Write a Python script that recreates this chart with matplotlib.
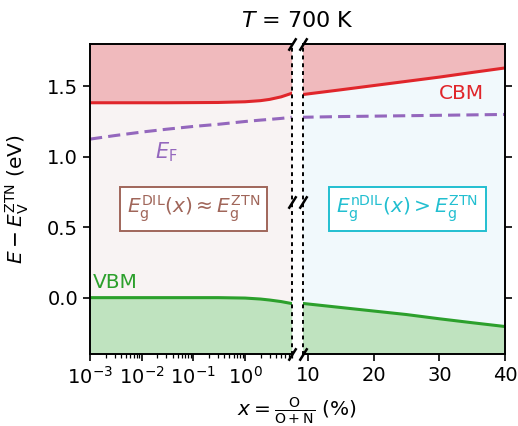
import matplotlib.pyplot as plt
import numpy as np

# dilute region (log x) and non-dilute region (linear x), x in %
x_dil = [1e-3, 3e-3, 1e-2, 3e-2, 0.1, 0.3, 1, 2, 3, 5, 8]
cbm_dil = [1.383, 1.383, 1.383, 1.383, 1.384, 1.385, 1.39, 1.398, 1.407, 1.425, 1.45]
ef_dil = [1.125, 1.15, 1.175, 1.195, 1.215, 1.23, 1.25, 1.26, 1.265, 1.272, 1.28]
vbm_dil = [0.0, 0.0, 0.0, 0.0, 0.0, 0.0, -0.003, -0.01, -0.017, -0.028, -0.042]

x_ndil = [9, 15, 20, 25, 30, 35, 40]
cbm_ndil = [1.44, 1.475, 1.505, 1.535, 1.565, 1.598, 1.63]
ef_ndil = [1.28, 1.285, 1.288, 1.291, 1.294, 1.297, 1.30]
vbm_ndil = [-0.04, -0.07, -0.095, -0.12, -0.15, -0.178, -0.205]

ylo, yhi = -0.40, 1.80
c_cb, c_vb, c_ef = '#e0262b', '#2ca02c', '#9467bd'
f_cb, f_vb = '#f0babd', '#bfe3bf'
f_gap_dil, f_gap_ndil = '#f8f3f3', '#f1f9fc'

plt.rcParams['font.size'] = 14
fig = plt.figure(figsize=(5.18, 4.26), dpi=100)
ax1 = fig.add_axes([90/518, 1-354/426, 201.7/518, 310/426])
ax2 = fig.add_axes([302.7/518, 1-354/426, 202.3/518, 310/426])


def draw(ax, x, cbm, ef, vbm, gapcol):
    ax.fill_between(x, cbm, yhi, color=f_cb, lw=0)
    ax.fill_between(x, vbm, cbm, color=gapcol, lw=0)
    ax.fill_between(x, ylo, vbm, color=f_vb, lw=0)
    ax.plot(x, cbm, color=c_cb, lw=2.2)
    ax.plot(x, vbm, color=c_vb, lw=2.2)
    ax.plot(x, ef, color=c_ef, lw=2.2, ls=(0, (4, 2)))
    ax.set_ylim(ylo, yhi)
    ax.set_yticks([0.0, 0.5, 1.0, 1.5])


draw(ax1, x_dil, cbm_dil, ef_dil, vbm_dil, f_gap_dil)
draw(ax2, x_ndil, cbm_ndil, ef_ndil, vbm_ndil, f_gap_ndil)

ax1.set_xscale('log')
ax1.set_xlim(1e-3, 8)
ax1.set_xticks([1e-3, 1e-2, 1e-1, 1e0])
ax1.set_yticklabels(['0.0', '0.5', '1.0', '1.5'])
ax1.spines['right'].set_linestyle((0, (1, 3)))
ax1.spines['right'].set_linewidth(1.4)

ax2.set_xlim(9.2, 40)
ax2.set_xticks([10, 20, 30, 40])
ax2.yaxis.tick_right()
ax2.set_yticklabels([])
ax2.spines['left'].set_linestyle((0, (1, 3)))
ax2.spines['left'].set_linewidth(1.4)

for ax in (ax1, ax2):
    for side in ('top', 'bottom'):
        ax.spines[side].set_linewidth(1.4)
    ax.tick_params(width=1.2, length=5)
    ax.tick_params(which='minor', width=0.9, length=3)
ax1.spines['left'].set_linewidth(1.4)
ax2.spines['right'].set_linewidth(1.4)

# break marks
kw = dict(marker=[(-1, -1.6), (1, 1.6)], markersize=9, linestyle='none',
          color='k', mec='k', mew=1.8, clip_on=False)
ymid = (0.68 - ylo) / (yhi - ylo)
ax1.plot([1, 1, 1], [0, 1, ymid], transform=ax1.transAxes, **kw)
ax2.plot([0, 0, 0], [0, 1, ymid], transform=ax2.transAxes, **kw)

ax1.text(0.012, 0.105, 'VBM', color=c_vb, fontsize=14.5, va='center',
         transform=ax1.get_yaxis_transform())
ax1.text(0.018, 1.03, '$E_\\mathrm{F}$', color=c_ef, fontsize=15, va='center')
ax2.text(33.4, 1.45, 'CBM', color=c_cb, fontsize=14.5, ha='center', va='center')

ax1.text(0.513, 0.63, '$E_\\mathrm{g}^\\mathrm{DIL}(x) \\approx E_\\mathrm{g}^\\mathrm{ZTN}$',
         transform=ax1.get_yaxis_transform(), ha='center', va='center',
         color='#a0665a', fontsize=14.5,
         bbox=dict(boxstyle='square,pad=0.35', fc='white', ec='#a0665a', lw=1.4))
ax2.text(0.518, 0.63, '$E_\\mathrm{g}^\\mathrm{nDIL}(x) > E_\\mathrm{g}^\\mathrm{ZTN}$',
         transform=ax2.get_yaxis_transform(), ha='center', va='center',
         color='#22bfd0', fontsize=14.5,
         bbox=dict(boxstyle='square,pad=0.35', fc='white', ec='#22bfd0', lw=1.4))

fig.text(297/518, 1-21/426, '$T$ = 700 K', ha='center', va='center', fontsize=16)
ax1.set_ylabel('$E - E_\\mathrm{V}^\\mathrm{ZTN}$ (eV)', fontsize=14.5)
ax1.yaxis.set_label_coords((31 - 90)/201.7, 0.5)
fig.text(297/518, 1-411/426, '$x = \\frac{\\mathrm{O}}{\\mathrm{O+N}}$ (%)',
         ha='center', va='center', fontsize=14.5)

fig.savefig('out.png', dpi=100)
